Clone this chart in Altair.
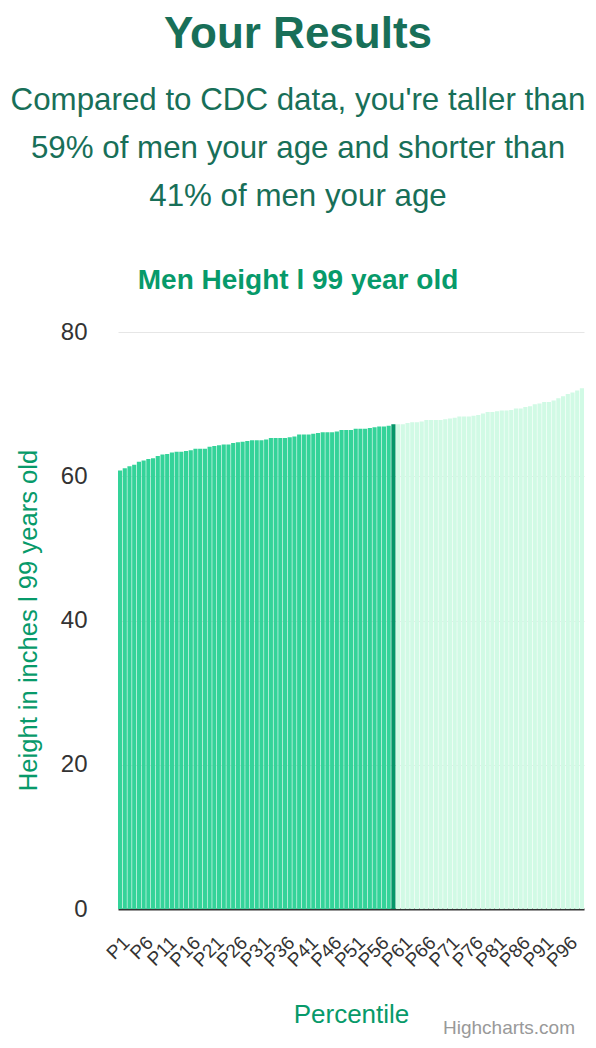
import altair as alt
import pandas as pd

# percentile categories and height (inches)
percentiles = [f"P{i}" for i in range(1, 100)]
heights = [
    60.8, 61.1, 61.4, 61.6, 62.0, 62.2, 62.4, 62.5, 62.8, 63.0,
    63.1, 63.3, 63.4, 63.4, 63.5, 63.6, 63.8, 63.8, 63.8, 64.1,
    64.2, 64.3, 64.4, 64.4, 64.6, 64.7, 64.8, 64.9, 65.0, 65.0,
    65.0, 65.1, 65.3, 65.3, 65.3, 65.3, 65.4, 65.5, 65.8, 65.8,
    65.8, 65.9, 66.0, 66.1, 66.1, 66.1, 66.2, 66.4, 66.4, 66.4,
    66.6, 66.6, 66.6, 66.7, 66.8, 66.9, 66.9, 67.0, 67.2, 67.2,
    67.2, 67.4, 67.5, 67.5, 67.6, 67.8, 67.8, 67.8, 67.8, 67.9,
    68.0, 68.1, 68.3, 68.3, 68.3, 68.4, 68.5, 68.7, 68.9, 68.9,
    69.0, 69.1, 69.1, 69.2, 69.4, 69.4, 69.6, 69.7, 70.0, 70.1,
    70.3, 70.3, 70.5, 70.8, 71.1, 71.4, 71.6, 71.9, 72.2,
]
user_percentile = 59
y_ticks = [0, 20, 40, 60, 80]

summary_lines = [
    "Compared to CDC data, you're taller than",
    "59% of men your age and shorter than",
    "41% of men your age",
]

groups = ["below", "you", "above"]
group_colors = ["#34d399", "#059669", "#d1fae5"]

title_color = "#186f58"
accent = "#079a6a"

df = pd.DataFrame({"percentile": percentiles, "height": heights})
df["group"] = [
    "below" if i < user_percentile else ("you" if i == user_percentile else "above")
    for i in range(1, len(percentiles) + 1)
]

bars = alt.Chart(df).mark_bar().encode(
    x=alt.X(
        "percentile:N",
        sort=percentiles,
        scale=alt.Scale(paddingInner=0.12, paddingOuter=0),
        axis=alt.Axis(
            values=percentiles[::5],
            labelAngle=-45,
            labelFontSize=19,
            labelColor="#333333",
            labelPadding=24,
            ticks=False,
            grid=False,
            domainColor="#333333",
            domainWidth=2,
            title="Percentile",
            titleFontSize=26,
            titleFontWeight="normal",
            titleColor=accent,
            titleBaseline="alphabetic",
            titleY=113,
        ),
    ),
    y=alt.Y(
        "height:Q",
        scale=alt.Scale(domain=[0, 80], nice=False),
        axis=alt.Axis(
            values=y_ticks,
            labelFontSize=24,
            labelColor="#333333",
            labelPadding=31,
            ticks=False,
            domain=False,
            gridColor="#e6e6e6",
            title="Height in inches l 99 years old",
            titleFontSize=25.6,
            titleFontWeight="normal",
            titleColor=accent,
            titleX=-77,
            titleY=288,
        ),
    ),
    color=alt.Color(
        "group:N",
        scale=alt.Scale(domain=groups, range=group_colors),
        legend=None,
    ),
)

one = pd.DataFrame({"k": [0]})

heading = alt.Chart(one).mark_text(
    text="Your Results", fontSize=44, fontWeight="bold", color=title_color,
    align="center", baseline="alphabetic",
).encode(x=alt.value(180), y=alt.value(-284))

summary = [
    alt.Chart(one).mark_text(
        text=line, fontSize=31.3, color=title_color,
        align="center", baseline="alphabetic",
    ).encode(x=alt.value(180), y=alt.value(-222 + 48 * n))
    for n, line in enumerate(summary_lines)
]

chart_title = alt.Chart(one).mark_text(
    text="Men Height l 99 year old", fontSize=28, fontWeight="bold",
    color=accent, align="center", baseline="alphabetic",
).encode(x=alt.value(180), y=alt.value(-43))

credits = alt.Chart(one).mark_text(
    text="Highcharts.com", fontSize=19, color="#999999",
    align="right", baseline="alphabetic",
).encode(x=alt.value(457), y=alt.value(702))

chart = alt.layer(bars, heading, *summary, chart_title, credits).properties(
    width=466,
    height=577,
    padding={"left": 110, "top": 324, "right": 4, "bottom": 131},
    autosize=alt.AutoSizeParams(type="none"),
).configure(
    font="Liberation Sans"
).configure_view(
    stroke="transparent"
)

chart.save("out.html", embed_options={"renderer": "svg", "actions": False})
